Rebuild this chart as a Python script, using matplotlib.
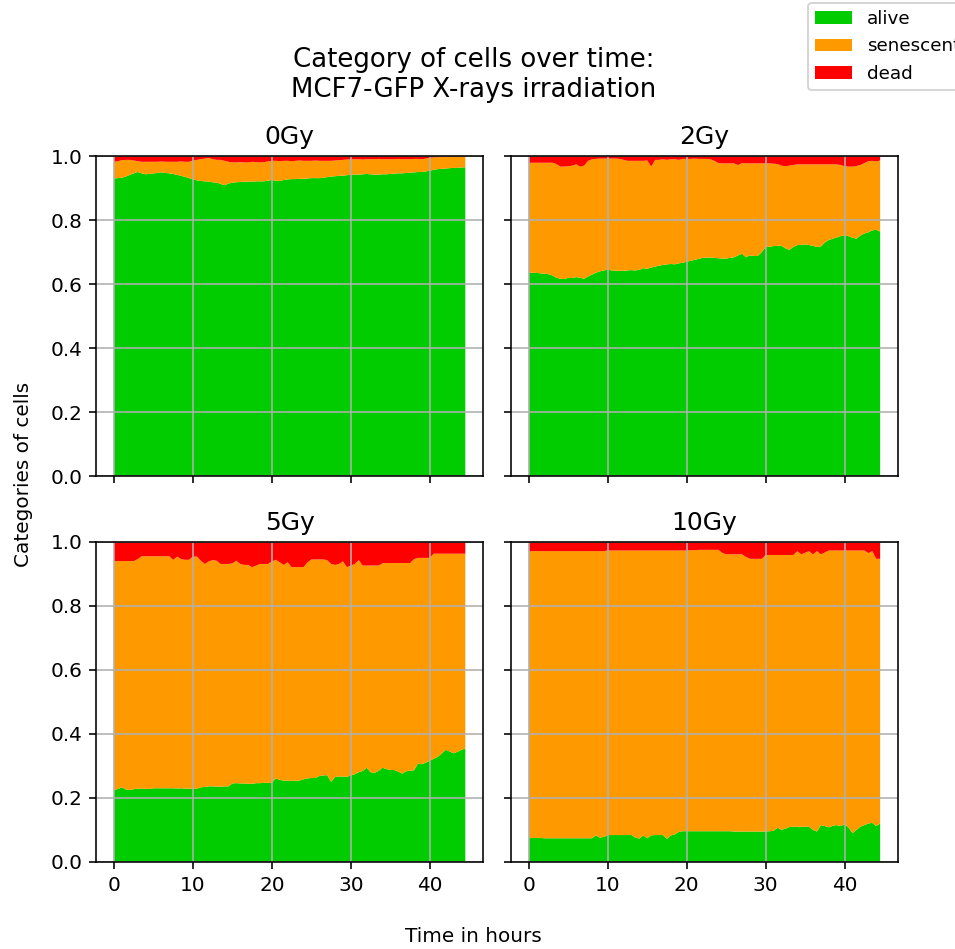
import numpy as np
import matplotlib
import matplotlib.pyplot as plt

matplotlib.use('Agg')

# time axis: one reading every 30 minutes
hours = np.arange(90) * 0.5

doses = ['0Gy', '2Gy', '5Gy', '10Gy']
categories = ['alive', 'senescent', 'dead']
colors = ['#00cc00', '#ff9900', '#ff0000']

# fraction of alive cells per reading
alive_0gy = [
    0.930, 0.931, 0.932, 0.936, 0.941, 0.946, 0.950, 0.946, 0.943, 0.944,
    0.946, 0.947, 0.949, 0.947, 0.946, 0.944, 0.941, 0.938, 0.935, 0.931,
    0.927, 0.924, 0.922, 0.921, 0.920, 0.918, 0.917, 0.913, 0.909, 0.914,
    0.917, 0.918, 0.919, 0.920, 0.920, 0.920, 0.921, 0.921, 0.921, 0.923,
    0.925, 0.923, 0.922, 0.925, 0.927, 0.928, 0.928, 0.929, 0.929, 0.930,
    0.931, 0.931, 0.931, 0.932, 0.934, 0.936, 0.937, 0.938, 0.939, 0.940,
    0.942, 0.942, 0.942, 0.943, 0.944, 0.943, 0.942, 0.942, 0.943, 0.943,
    0.944, 0.945, 0.946, 0.946, 0.947, 0.948, 0.949, 0.950, 0.950, 0.952,
    0.954, 0.957, 0.959, 0.960, 0.961, 0.962, 0.963, 0.963, 0.964, 0.965,
]
alive_2gy = [
    0.635, 0.636, 0.635, 0.634, 0.633, 0.631, 0.627, 0.620, 0.617, 0.616,
    0.620, 0.619, 0.622, 0.620, 0.617, 0.624, 0.630, 0.636, 0.640, 0.643,
    0.645, 0.643, 0.642, 0.642, 0.642, 0.643, 0.644, 0.643, 0.645, 0.650,
    0.648, 0.652, 0.655, 0.658, 0.660, 0.662, 0.663, 0.662, 0.665, 0.667,
    0.670, 0.673, 0.676, 0.679, 0.682, 0.683, 0.683, 0.682, 0.681, 0.680,
    0.680, 0.682, 0.684, 0.690, 0.695, 0.684, 0.690, 0.688, 0.688, 0.700,
    0.716, 0.717, 0.719, 0.720, 0.720, 0.712, 0.707, 0.716, 0.722, 0.723,
    0.724, 0.722, 0.720, 0.716, 0.718, 0.730, 0.738, 0.742, 0.746, 0.750,
    0.752, 0.750, 0.745, 0.742, 0.752, 0.758, 0.762, 0.768, 0.770, 0.764,
]
alive_5gy = [
    0.224, 0.228, 0.233, 0.226, 0.225, 0.227, 0.229, 0.229, 0.228, 0.228,
    0.230, 0.230, 0.230, 0.230, 0.230, 0.230, 0.229, 0.230, 0.229, 0.229,
    0.228, 0.229, 0.233, 0.234, 0.236, 0.236, 0.235, 0.235, 0.236, 0.236,
    0.245, 0.246, 0.245, 0.245, 0.244, 0.244, 0.246, 0.246, 0.247, 0.247,
    0.247, 0.261, 0.256, 0.254, 0.254, 0.253, 0.254, 0.254, 0.258, 0.261,
    0.262, 0.262, 0.268, 0.270, 0.271, 0.250, 0.265, 0.267, 0.266, 0.266,
    0.270, 0.274, 0.280, 0.284, 0.294, 0.280, 0.278, 0.284, 0.294, 0.290,
    0.287, 0.287, 0.282, 0.276, 0.283, 0.285, 0.286, 0.307, 0.305, 0.310,
    0.316, 0.322, 0.328, 0.338, 0.350, 0.345, 0.339, 0.344, 0.350, 0.354,
]
alive_10gy = [
    0.076, 0.075, 0.075, 0.075, 0.074, 0.074, 0.074, 0.074, 0.074, 0.074,
    0.074, 0.074, 0.074, 0.074, 0.074, 0.074, 0.074, 0.083, 0.076, 0.078,
    0.084, 0.084, 0.084, 0.084, 0.084, 0.084, 0.084, 0.076, 0.073, 0.083,
    0.074, 0.083, 0.084, 0.084, 0.084, 0.072, 0.083, 0.086, 0.094, 0.096,
    0.096, 0.096, 0.096, 0.096, 0.096, 0.096, 0.096, 0.096, 0.096, 0.096,
    0.096, 0.096, 0.095, 0.095, 0.095, 0.095, 0.095, 0.095, 0.095, 0.095,
    0.095, 0.096, 0.097, 0.107, 0.100, 0.104, 0.109, 0.110, 0.110, 0.110,
    0.110, 0.110, 0.100, 0.095, 0.115, 0.112, 0.108, 0.113, 0.115, 0.112,
    0.118, 0.108, 0.090, 0.100, 0.110, 0.115, 0.120, 0.122, 0.112, 0.120,
]

# fraction of dead cells per reading
dead_0gy = [
    0.018, 0.016, 0.013, 0.012, 0.012, 0.014, 0.016, 0.018, 0.018, 0.018,
    0.018, 0.018, 0.017, 0.018, 0.018, 0.018, 0.018, 0.017, 0.018, 0.018,
    0.014, 0.012, 0.010, 0.008, 0.006, 0.010, 0.012, 0.012, 0.015, 0.018,
    0.020, 0.020, 0.019, 0.020, 0.020, 0.018, 0.019, 0.020, 0.019, 0.017,
    0.015, 0.015, 0.016, 0.015, 0.015, 0.016, 0.015, 0.014, 0.015, 0.015,
    0.015, 0.014, 0.015, 0.015, 0.015, 0.015, 0.014, 0.013, 0.012, 0.011,
    0.010, 0.010, 0.010, 0.011, 0.010, 0.010, 0.010, 0.009, 0.010, 0.010,
    0.010, 0.010, 0.009, 0.010, 0.010, 0.010, 0.009, 0.009, 0.010, 0.008,
    0.006, 0.004, 0.004, 0.003, 0.003, 0.003, 0.002, 0.002, 0.002, 0.002,
]
dead_2gy = [
    0.021, 0.021, 0.021, 0.021, 0.021, 0.021, 0.021, 0.025, 0.033, 0.033,
    0.032, 0.030, 0.026, 0.033, 0.030, 0.015, 0.010, 0.009, 0.008, 0.008,
    0.008, 0.008, 0.008, 0.009, 0.012, 0.015, 0.015, 0.015, 0.015, 0.015,
    0.014, 0.033, 0.012, 0.012, 0.010, 0.012, 0.010, 0.010, 0.012, 0.009,
    0.009, 0.009, 0.008, 0.009, 0.009, 0.009, 0.010, 0.015, 0.022, 0.023,
    0.023, 0.023, 0.023, 0.028, 0.022, 0.023, 0.023, 0.023, 0.023, 0.023,
    0.023, 0.023, 0.024, 0.025, 0.030, 0.032, 0.030, 0.028, 0.026, 0.026,
    0.026, 0.026, 0.026, 0.026, 0.026, 0.026, 0.026, 0.026, 0.026, 0.028,
    0.032, 0.033, 0.033, 0.031, 0.028, 0.022, 0.016, 0.015, 0.017, 0.014,
]
dead_5gy = [
    0.061, 0.061, 0.061, 0.061, 0.061, 0.061, 0.055, 0.046, 0.046, 0.046,
    0.046, 0.046, 0.046, 0.046, 0.046, 0.057, 0.047, 0.055, 0.057, 0.057,
    0.047, 0.047, 0.060, 0.070, 0.062, 0.058, 0.060, 0.070, 0.070, 0.070,
    0.068, 0.060, 0.070, 0.073, 0.073, 0.080, 0.075, 0.070, 0.070, 0.070,
    0.062, 0.057, 0.065, 0.073, 0.065, 0.080, 0.080, 0.080, 0.080, 0.065,
    0.056, 0.056, 0.056, 0.056, 0.058, 0.070, 0.073, 0.070, 0.062, 0.080,
    0.075, 0.070, 0.058, 0.075, 0.075, 0.075, 0.075, 0.075, 0.068, 0.067,
    0.067, 0.067, 0.067, 0.067, 0.067, 0.067, 0.055, 0.051, 0.051, 0.051,
    0.051, 0.038, 0.038, 0.038, 0.038, 0.038, 0.038, 0.038, 0.038, 0.038,
]
dead_10gy = [
    0.030, 0.030, 0.030, 0.030, 0.030, 0.030, 0.030, 0.030, 0.030, 0.030,
    0.030, 0.030, 0.030, 0.030, 0.030, 0.030, 0.030, 0.030, 0.030, 0.030,
    0.028, 0.028, 0.028, 0.028, 0.028, 0.028, 0.028, 0.028, 0.028, 0.028,
    0.028, 0.028, 0.028, 0.028, 0.028, 0.028, 0.028, 0.028, 0.028, 0.028,
    0.028, 0.027, 0.027, 0.026, 0.026, 0.026, 0.026, 0.026, 0.026, 0.035,
    0.040, 0.040, 0.040, 0.040, 0.040, 0.048, 0.054, 0.054, 0.054, 0.054,
    0.042, 0.042, 0.042, 0.042, 0.042, 0.042, 0.042, 0.042, 0.030, 0.040,
    0.035, 0.030, 0.040, 0.030, 0.040, 0.034, 0.028, 0.028, 0.028, 0.028,
    0.028, 0.028, 0.028, 0.028, 0.028, 0.028, 0.036, 0.030, 0.054, 0.054,
]

alive = [alive_0gy, alive_2gy, alive_5gy, alive_10gy]
dead = [dead_0gy, dead_2gy, dead_5gy, dead_10gy]

fig, axes = plt.subplots(2, 2, sharex=True, sharey=True,
                         figsize=(955 / 144, 949 / 144), dpi=144)
fig.subplots_adjust(left=0.101, right=0.940, bottom=0.0917, top=0.8356,
                    wspace=0.0735, hspace=0.203)

for ax, dose, a, d in zip(axes.flat, doses, alive, dead):
    a = np.array(a)
    d = np.array(d)
    senescent = 1.0 - a - d
    ax.stackplot(hours, a, senescent, d, labels=categories, colors=colors)
    ax.set_title(dose, fontsize=12.5)
    ax.set_ylim(0, 1)
    ax.grid(True)

handles, labels = axes[0, 0].get_legend_handles_labels()
fig.legend(handles, labels, loc='upper left', bbox_to_anchor=(0.846, 0.997),
           borderaxespad=0, fontsize=9.2)

fig.suptitle('Category of cells over time:\nMCF7-GFP X-rays irradiation',
             x=0.496, y=1 - 97 / 949, va='baseline', fontsize=13)
fig.text(0.496, 1 - 942 / 949, 'Time in hours', ha='center', va='baseline')
fig.text(0.0245, 0.5, 'Categories of cells', rotation=90,
         ha='center', va='center')

plt.savefig('out.png')
